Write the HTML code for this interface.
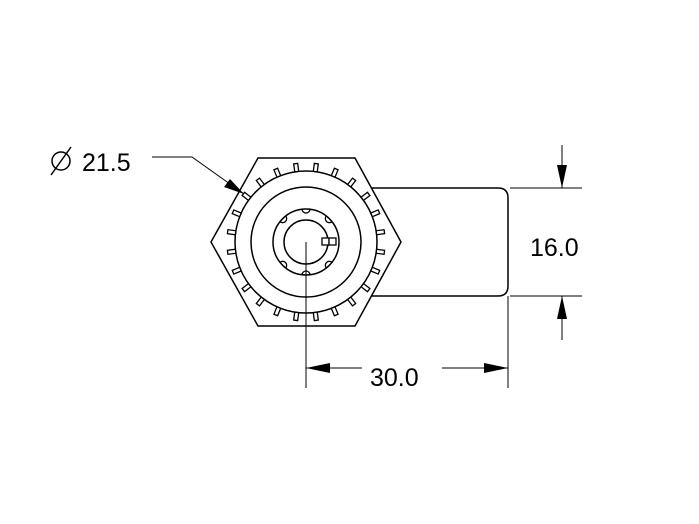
<!DOCTYPE html>
<html><head><style>body{margin:0;background:#fff}svg{display:block}</style></head><body>
<svg width="699" height="524" viewBox="0 0 699 524" xmlns="http://www.w3.org/2000/svg" font-family="Liberation Sans, sans-serif">
<g fill="none" stroke="#000" stroke-width="1.5">
<path d="M372,188 H498 Q508,188 508,198 V286 Q508,296 498,296 H372"/>
<polygon points="258,158 355,158 401,242 355,326 258,326 211,242" fill="#fff"/>
<circle cx="306" cy="242" r="71"/>
<circle cx="306" cy="242" r="55"/>
<circle cx="306" cy="242" r="33"/>
<circle cx="306" cy="242" r="22"/>
</g>
<g stroke="#000" stroke-width="1.3" fill="#fff">
<g transform="translate(306 242)">
<rect x="-2" y="-79" width="4" height="8" transform="rotate(7.5)"/>
<rect x="-2" y="-79" width="4" height="8" transform="rotate(22.5)"/>
<rect x="-2" y="-79" width="4" height="8" transform="rotate(37.5)"/>
<rect x="-2" y="-79" width="4" height="8" transform="rotate(52.5)"/>
<rect x="-2" y="-79" width="4" height="8" transform="rotate(67.5)"/>
<rect x="-2" y="-79" width="4" height="8" transform="rotate(82.5)"/>
<rect x="-2" y="-79" width="4" height="8" transform="rotate(97.5)"/>
<rect x="-2" y="-79" width="4" height="8" transform="rotate(112.5)"/>
<rect x="-2" y="-79" width="4" height="8" transform="rotate(127.5)"/>
<rect x="-2" y="-79" width="4" height="8" transform="rotate(142.5)"/>
<rect x="-2" y="-79" width="4" height="8" transform="rotate(157.5)"/>
<rect x="-2" y="-79" width="4" height="8" transform="rotate(172.5)"/>
<rect x="-2" y="-79" width="4" height="8" transform="rotate(187.5)"/>
<rect x="-2" y="-79" width="4" height="8" transform="rotate(202.5)"/>
<rect x="-2" y="-79" width="4" height="8" transform="rotate(217.5)"/>
<rect x="-2" y="-79" width="4" height="8" transform="rotate(232.5)"/>
<rect x="-2" y="-79" width="4" height="8" transform="rotate(247.5)"/>
<rect x="-2" y="-79" width="4" height="8" transform="rotate(262.5)"/>
<rect x="-2" y="-79" width="4" height="8" transform="rotate(277.5)"/>
<rect x="-2" y="-79" width="4" height="8" transform="rotate(292.5)"/>
<rect x="-2" y="-79" width="4" height="8" transform="rotate(307.5)"/>
<rect x="-2" y="-79" width="4" height="8" transform="rotate(322.5)"/>
<rect x="-2" y="-79" width="4" height="8" transform="rotate(337.5)"/>
<rect x="-2" y="-79" width="4" height="8" transform="rotate(352.5)"/>
<g fill="none">
<path d="M-4,-33 A4,4 0 0 0 4,-33"/>
<path d="M-4,-33 A4,4 0 0 0 4,-33" transform="rotate(180)"/>
<path d="M-4,-33 A4,4 0 0 0 4,-33" transform="rotate(45)"/>
<path d="M-4,-33 A4,4 0 0 0 4,-33" transform="rotate(135)"/>
<path d="M-4,-33 A4,4 0 0 0 4,-33" transform="rotate(225)"/>
<path d="M-4,-33 A4,4 0 0 0 4,-33" transform="rotate(315)"/>
</g>
</g>
<rect x="322" y="238" width="7" height="7"/>
<rect x="329" y="238" width="7" height="7"/>
</g>
<g stroke="#000" stroke-width="1" fill="none">
<line x1="306" y1="242" x2="306" y2="388"/>
<line x1="508" y1="296" x2="508" y2="388"/>
<line x1="306" y1="368" x2="362" y2="368"/>
<line x1="442" y1="368" x2="508" y2="368"/>
<line x1="510" y1="188" x2="582" y2="188"/>
<line x1="510" y1="296" x2="582" y2="296"/>
<line x1="562" y1="145" x2="562" y2="188"/>
<line x1="562" y1="296" x2="562" y2="340"/>
<polyline points="152,157 192,157 244,194"/>
</g>
<g fill="#000">
<polygon points="306,368 330,363 330,373"/>
<polygon points="508,368 484,363 484,373"/>
<polygon points="562,188 557,165 567,165"/>
<polygon points="562,296 557,319 567,319"/>
<polygon points="244,194 224,187 230,179"/>
</g>
<g font-size="25" fill="#000">
<text x="82" y="171">21.5</text>
<text x="530" y="256">16.0</text>
<text x="370" y="386">30.0</text>
</g>
<g stroke="#000" stroke-width="1.5" fill="none">
<circle cx="61" cy="161" r="9"/>
<line x1="51" y1="175" x2="71" y2="147"/>
</g>
</svg>
</body></html>
